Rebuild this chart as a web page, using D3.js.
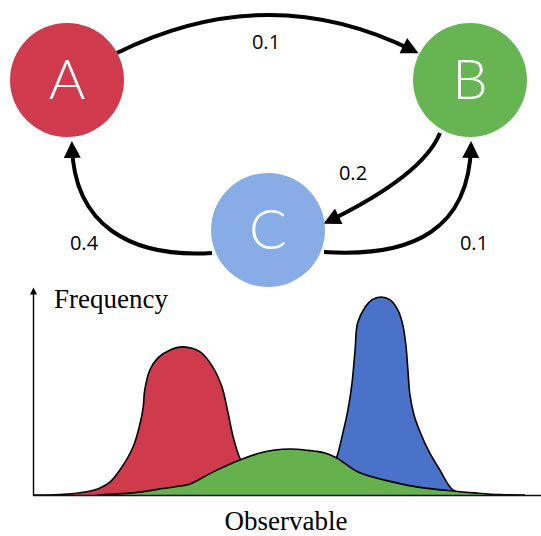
<!DOCTYPE html>
<html>
<head>
<meta charset="utf-8">
<script src="https://cdn.jsdelivr.net/npm/d3@7"></script>
<style>
  html, body { margin: 0; padding: 0; background: #fff; }
  svg { display: block; }
</style>
</head>
<body>
<script>
// ---------- data ----------
const states = ["A", "B", "C"];
const stateColors = ["#cf3a4c", "#66b452", "#87ace6"];
const transitions = [
  { from: "A", to: "B", p: "0.1" },
  { from: "B", to: "C", p: "0.2" },
  { from: "C", to: "A", p: "0.4" },
  { from: "C", to: "B", p: "0.1" }
];

// distributions of the observable (observable 0..100, frequency 0..100)
const obsRed   = [0, 5.3, 10.2, 13.2, 15.2, 17.1, 19.7, 21.1, 21.7, 22.0, 23.0, 24.6, 27.0, 29.5, 32.9, 35.4, 37.2, 38.4, 39.4, 40.7, 42.7, 45.1, 48.6, 54.5];
const freqRed  = [0, 0.2, 1.4, 3.4, 6.3, 12.0, 23.1, 34.6, 42.3, 50.5, 60.1, 65.9, 69.7, 71.2, 68.8, 61.5, 51.9, 39.4, 27.9, 17.8, 9.1, 3.8, 1.0, 0];
const obsBlue  = [52.6, 56.5, 58.5, 59.8, 61.0, 62.0, 62.8, 63.4, 63.9, 65.4, 66.7, 68.5, 70.3, 71.9, 72.8, 73.4, 73.8, 74.2, 75.0, 76.2, 77.8, 80.1, 82.7, 86.0, 90.9];
const freqBlue = [0, 1.5, 11, 18.3, 29.8, 40.9, 53.8, 69.7, 82.7, 90.4, 93.8, 95.2, 93.8, 88.5, 81.7, 72.1, 60.1, 48.1, 38.5, 30.3, 21.6, 12.0, 2.4, 0.5, 0];
const obsGreen = [12.6, 19.7, 25.6, 28.9, 30.9, 35.4, 40.7, 44.7, 47.6, 50.6, 53.5, 57.5, 59.8, 64.0, 70.7, 75.8, 82.7, 87.0, 91.9, 96.9];
const freqGreen= [0, 1.0, 3.1, 4.3, 5.3, 11.0, 16.8, 20.2, 21.6, 22.1, 21.6, 20.2, 17.8, 11.1, 6.3, 3.8, 1.9, 1.0, 0.2, 0];
const axisTitles = { x: "Observable", y: "Frequency" };

// ---------- layout ----------
const W = 541, H = 536;
const nodeLayout = { A: [67, 80], B: [470, 80], C: [268, 230] };
const R = 57;

const svg = d3.select("body").append("svg").attr("width", W).attr("height", H);

const defs = svg.append("defs");
defs.append("marker")
  .attr("id", "head")
  .attr("viewBox", "0 0 10 10")
  .attr("markerUnits", "userSpaceOnUse")
  .attr("markerWidth", 18).attr("markerHeight", 17)
  .attr("refX", 7).attr("refY", 5)
  .attr("orient", "auto")
  .append("path").attr("d", "M0,0 L10,5 L0,10 Z").attr("fill", "#000");
defs.append("marker")
  .attr("id", "axhead")
  .attr("viewBox", "0 0 10 10")
  .attr("markerUnits", "userSpaceOnUse")
  .attr("markerWidth", 8).attr("markerHeight", 7)
  .attr("refX", 5).attr("refY", 5)
  .attr("orient", "auto")
  .append("path").attr("d", "M0,0 L10,5 L0,10 Z").attr("fill", "#000");

// edge geometry (curve shapes)
const edgeGeom = {
  "A-B": { d: p => { p.moveTo(117, 53); p.quadraticCurveTo(268, -22, 414, 51); }, label: [266, 49] },
  "B-C": { d: p => { p.moveTo(440, 133); p.bezierCurveTo(425, 170, 368, 202, 328, 221.5); }, label: [353, 180] },
  "C-A": { d: p => { p.moveTo(212, 253); p.bezierCurveTo(130, 258, 74, 225, 72, 146); }, label: [84, 250] },
  "C-B": { d: p => { p.moveTo(324, 252); p.bezierCurveTo(415, 258, 469, 228, 471, 146); }, label: [474, 250] }
};

const gEdges = svg.append("g");
transitions.forEach(t => {
  const g = edgeGeom[t.from + "-" + t.to];
  const p = d3.path(); g.d(p);
  gEdges.append("path").attr("d", p.toString())
    .attr("fill", "none").attr("stroke", "#000").attr("stroke-width", 4)
    .attr("marker-end", "url(#head)");
  gEdges.append("text").attr("x", g.label[0]).attr("y", g.label[1])
    .attr("text-anchor", "middle")
    .attr("font-family", "'Open Sans', 'Noto Sans', sans-serif")
    .attr("font-size", 20).attr("fill", "#000").text(t.p);
});

const gNodes = svg.append("g");
states.forEach((s, i) => {
  const [cx, cy] = nodeLayout[s];
  gNodes.append("circle").attr("cx", cx).attr("cy", cy).attr("r", R).attr("fill", stateColors[i]);
  gNodes.append("text").attr("x", cx).attr("y", cy + 19)
    .attr("text-anchor", "middle")
    .attr("font-family", "Lato, 'Open Sans', sans-serif")
    .attr("font-weight", 300)
    .attr("font-size", 56).attr("fill", "#fff").text(s);
});

// ---------- distribution chart ----------
const x = d3.scaleLinear().domain([0, 100]).range([33, 541]);
const y = d3.scaleLinear().domain([0, 100]).range([495, 287]);

const series = [
  { obs: obsRed, freq: freqRed, color: "#cf3a4c" },
  { obs: obsBlue, freq: freqBlue, color: "#4a72c8" },
  { obs: obsGreen, freq: freqGreen, color: "#64b14e" }
];

const curve = d3.curveCatmullRom.alpha(0.5);
const area = d3.area().x(d => x(d[0])).y0(y(0)).y1(d => y(d[1])).curve(curve);
const line = d3.line().x(d => x(d[0])).y(d => y(d[1])).curve(curve);

const gDist = svg.append("g");
series.forEach(s => {
  const pts = s.obs.map((o, i) => [o, s.freq[i]]);
  gDist.append("path").attr("d", area(pts)).attr("fill", s.color);
  gDist.append("path").attr("d", line(pts)).attr("fill", "none")
    .attr("stroke", "#000").attr("stroke-width", 1.6).attr("stroke-linejoin", "round");
});

// axes
svg.append("line").attr("x1", x(0)).attr("x2", W).attr("y1", y(0) + 0.5).attr("y2", y(0) + 0.5)
  .attr("stroke", "#111").attr("stroke-width", 1.6);
svg.append("line").attr("x1", x(0) + 0.5).attr("x2", x(0) + 0.5).attr("y1", y(0) + 1).attr("y2", 291)
  .attr("stroke", "#000").attr("stroke-width", 1.4).attr("marker-end", "url(#axhead)");

svg.append("text").attr("x", 54).attr("y", 308)
  .attr("font-family", "'Liberation Serif', 'DejaVu Serif', serif")
  .attr("font-size", 27).attr("fill", "#000").text(axisTitles.y);
svg.append("text").attr("x", 286).attr("y", 530).attr("text-anchor", "middle")
  .attr("font-family", "'Liberation Serif', 'DejaVu Serif', serif")
  .attr("font-size", 27).attr("fill", "#000").text(axisTitles.x);
</script>
</body>
</html>
